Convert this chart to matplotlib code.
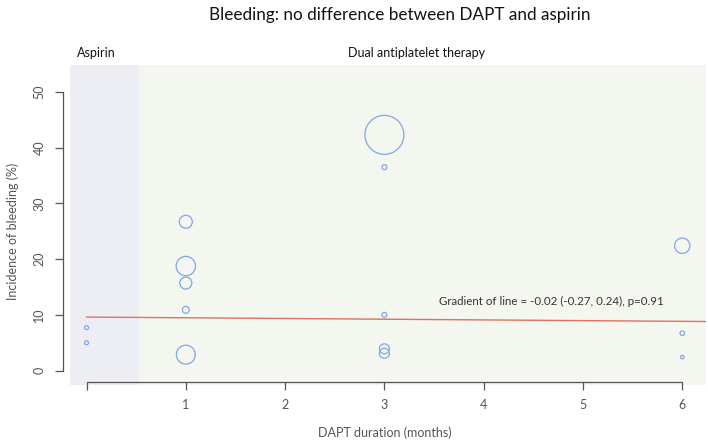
import matplotlib
matplotlib.use("Agg")
import matplotlib.pyplot as plt
from matplotlib.patches import Rectangle
import numpy as np

plt.rcParams['font.family'] = ['Lato', 'DejaVu Sans']

# ---- data ----
duration = [0, 0, 1, 1, 1, 1, 1, 3, 3, 3, 3, 3, 6, 6, 6]
bleeding = [7.7, 5.0, 26.7, 18.75, 15.7, 10.9, 2.85, 42.3, 36.5, 10.0, 3.9, 3.1, 22.4, 6.7, 2.4]
weights = [4, 4, 42, 94, 36, 12, 90, 380, 6, 6, 25, 25, 59, 5, 3]
x_ticks = [0, 1, 2, 3, 4, 5, 6]
x_tick_labels = ['', '1', '2', '3', '4', '5', '6']
y_ticks = [0, 10, 20, 30, 40, 50]
fit_intercept = 9.6
fit_slope = -0.128
title = "Bleeding: no difference between DAPT and aspirin"
annotation = "Gradient of line = -0.02 (-0.27, 0.24), p=0.91"

W, H = 708, 446
fig = plt.figure(figsize=(W / 100, H / 100), dpi=100)
# axes region in pixels
L, R, T, B = 62.7, 706.1, 80.8, 381.7
ax = fig.add_axes([L / W, 1 - B / H, (R - L) / W, (B - T) / H])
ax.set_facecolor('none')
ax.set_xlim(-0.24, 6.24)
ax.set_ylim(-2, 52)

# background bands
asp_col = '#EDEEF3'
dapt_col = '#F4F6F0'
band_bottom, band_top = -2.6, 54.9
ax.add_patch(Rectangle((-0.17, band_bottom), 0.70, band_top - band_bottom,
                       facecolor=asp_col, edgecolor='none', clip_on=False, zorder=0))
ax.add_patch(Rectangle((0.53, band_bottom), 6.24 - 0.53, band_top - band_bottom,
                       facecolor=dapt_col, edgecolor='none', clip_on=False, zorder=0))

# points
ax.scatter(duration, bleeding, s=np.array(weights) * 2.07, facecolors='none',
           edgecolors='#82A6E6', linewidths=0.9, zorder=3, clip_on=False)

# fitted line
xs = np.array([0, 6.24])
ax.plot(xs, fit_intercept + fit_slope * xs, color='#E07060', lw=1.0, zorder=2)

ax.text(3.55, 12.4, annotation, fontsize=8.3, color='#333333', va='center', ha='left')

# axes styling
for s in ['top', 'right']:
    ax.spines[s].set_visible(False)
ax.spines['left'].set_bounds(0, 50)
ax.spines['bottom'].set_bounds(0, 6)
for s in ['left', 'bottom']:
    ax.spines[s].set_color('#555555')
    ax.spines[s].set_linewidth(0.9)
ax.set_xticks(x_ticks)
ax.set_xticklabels(x_tick_labels)
ax.set_yticks(y_ticks)
ax.tick_params(axis='both', direction='out', length=5.5, width=0.9, color='#555555',
               labelcolor='#555555', labelsize=9, pad=7)
for lab in ax.get_yticklabels():
    lab.set_rotation(90)
    lab.set_va('center')

ax.set_xlabel("DAPT duration (months)", fontsize=9, color='#555555', labelpad=11)
ax.set_ylabel("Incidence of bleeding (%)", fontsize=9, color='#555555', labelpad=10)

# header texts
fig.text(399.3 / W, 1 - 15 / H, title, fontsize=12.3, color='#111111', ha='center', va='center')
fig.text(77.3 / W, 1 - 53 / H, "Aspirin", fontsize=9, color='#111111', ha='left', va='center')
fig.text(416.7 / W, 1 - 53 / H, "Dual antiplatelet therapy", fontsize=9, color='#111111',
         ha='center', va='center')

fig.savefig('out.png', dpi=100)
